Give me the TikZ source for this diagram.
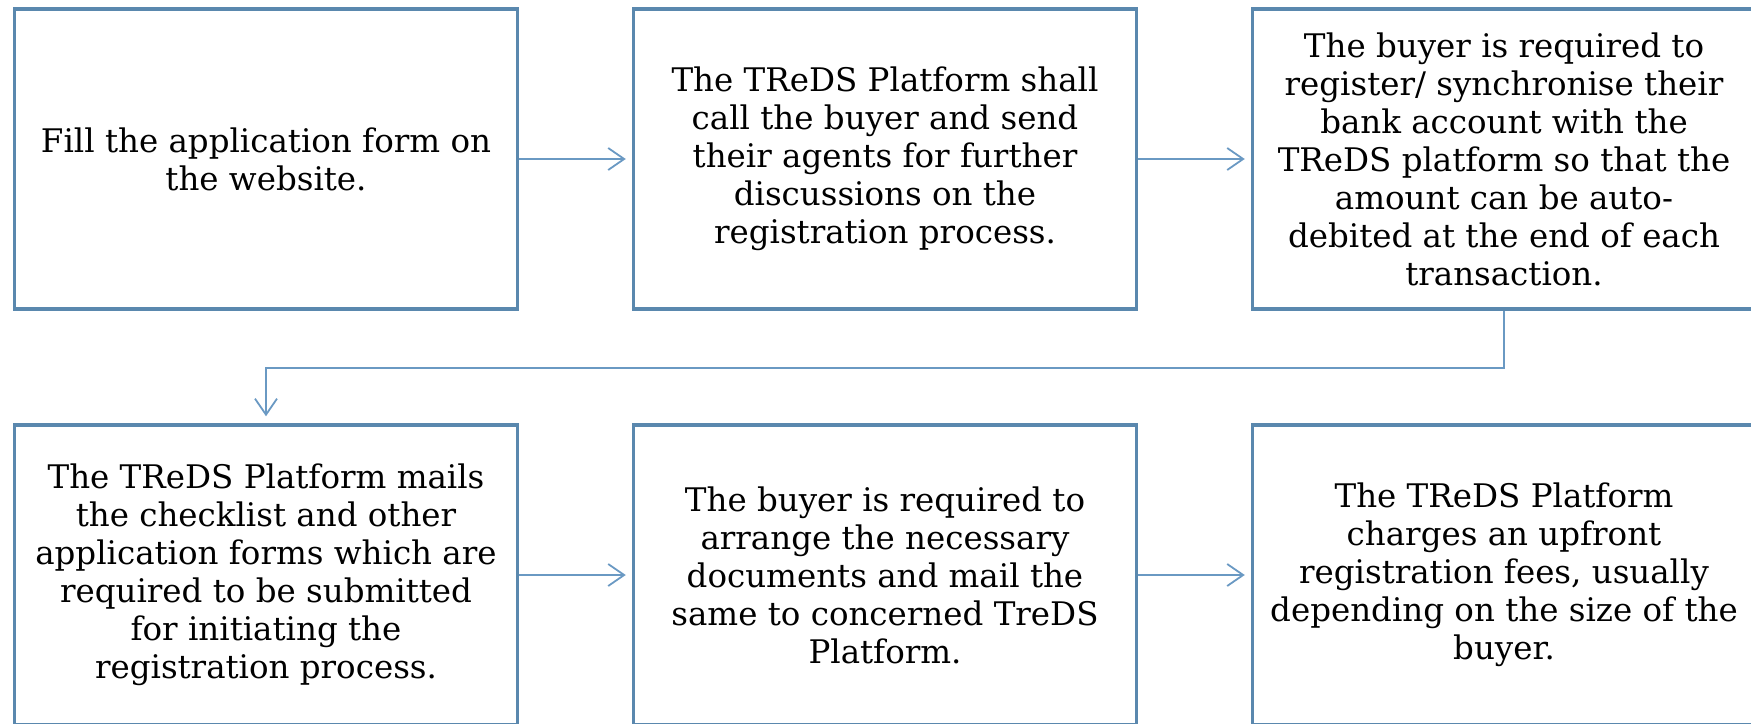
\documentclass[tikz,border=0pt]{standalone}
\usepackage{fontspec}
\setmainfont{DejaVu Serif}
\usetikzlibrary{arrows.meta}
\definecolor{boxblue}{HTML}{5A88AE}
\definecolor{linkblue}{HTML}{6A99C3}
\begin{document}
\begin{tikzpicture}[x=1pt,y=-1pt,
  stepbox/.style={draw=boxblue,line width=3.5pt,minimum width=503pt,minimum height=300pt,
    inner sep=0pt,align=center,font=\fontsize{32.5}{38}\selectfont},
  link/.style={draw=linkblue,line width=1.8pt,
    -{Straight Barb[length=16pt,width=22pt,line width=1.8pt]}}]
\useasboundingbox (0,0) rectangle (1751,723);
\node[stepbox] (b1) at (266,159) {Fill the application form on\\the website.};
\node[stepbox] (b2) at (885,159) {The TReDS Platform shall\\call the buyer and send\\their agents for further\\discussions on the\\registration process.};
\node[stepbox] (b3) at (1504,159) {The buyer is required to\\register/ synchronise their\\bank account with the\\TReDS platform so that the\\amount can be auto-\\debited at the end of each\\transaction.};
\node[stepbox] (b4) at (266,575) {The TReDS Platform mails\\the checklist and other\\application forms which are\\required to be submitted\\for initiating the\\registration process.};
\node[stepbox] (b5) at (885,575) {The buyer is required to\\arrange the necessary\\documents and mail the\\same to concerned TreDS\\Platform.};
\node[stepbox] (b6) at (1504,575) {The TReDS Platform\\charges an upfront\\registration fees, usually\\depending on the size of the\\buyer.};
\coordinate (c1) at (1504,368);
\coordinate (c2) at (266,368);
\draw[link,shorten >=6pt] (b1) -- (b2);
\draw[link,shorten >=6pt] (b2) -- (b3);
\draw[link,shorten >=7pt] (b3.south) -- (c1) -- (c2) -- (b4.north);
\draw[link,shorten >=6pt] (b4) -- (b5);
\draw[link,shorten >=6pt] (b5) -- (b6);
\end{tikzpicture}
\end{document}
